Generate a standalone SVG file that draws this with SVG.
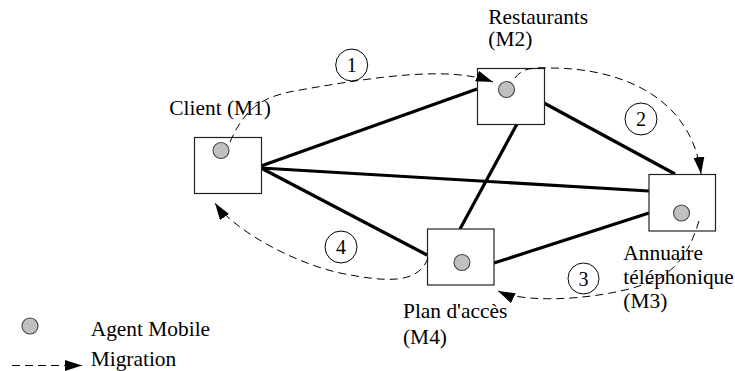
<svg xmlns="http://www.w3.org/2000/svg" width="735" height="371" viewBox="0 0 735 371">
<style>
text{font-family:"Liberation Serif","Times New Roman",serif;font-size:21.4px;fill:#000}
.box{fill:#fff;stroke:#222;stroke-width:1.2}
.agent{fill:#c0c0c0;stroke:#444;stroke-width:1.1}
.link{stroke:#000;stroke-width:3.2;fill:none}
.mig{stroke:#000;stroke-width:1;fill:none;stroke-dasharray:8,5;marker-end:url(#arr)}
.num{fill:none;stroke:#000;stroke-width:1}
.n{text-anchor:middle;font-size:20px}
</style>
<defs>
<marker id="arr" markerUnits="userSpaceOnUse" markerWidth="18" markerHeight="12" refX="17" refY="5.5" orient="auto">
<path d="M0,0 L17,5.5 L0,11 z" fill="#000"/>
</marker>
</defs>
<g id="links">
<line class="link" x1="261" y1="166" x2="477" y2="89"/>
<line class="link" x1="261" y1="168" x2="649" y2="191"/>
<line class="link" x1="261" y1="168" x2="427" y2="255"/>
<line class="link" x1="517" y1="124" x2="460" y2="229"/>
<line class="link" x1="544" y1="103" x2="675" y2="174"/>
<line class="link" x1="494" y1="263" x2="649" y2="213"/>
</g>
<g id="M1">
<rect class="box" x="194.5" y="137.5" width="67" height="56"/>
<circle class="agent" cx="221" cy="150.5" r="8"/>
<text x="169.3" y="114.5">Client (M1)</text>
</g>
<g id="M2">
<rect class="box" x="477.5" y="68.5" width="67" height="56"/>
<circle class="agent" cx="506.5" cy="89.5" r="8"/>
<text x="488.3" y="23.5">Restaurants</text>
<text x="488.3" y="46">(M2)</text>
</g>
<g id="M3">
<rect class="box" x="649" y="174.5" width="66.5" height="56.5"/>
<circle class="agent" cx="681.5" cy="213" r="8"/>
<text x="623.3" y="260">Annuaire</text>
<text x="623.3" y="283.5">téléphonique</text>
<text x="623.3" y="308">(M3)</text>
</g>
<g id="M4">
<rect class="box" x="427.5" y="229" width="66.5" height="56"/>
<circle class="agent" cx="462" cy="262.5" r="8"/>
<text x="403" y="318.3">Plan d'accès</text>
<text x="403" y="343.5">(M4)</text>
</g>
<g id="migrations">
<path class="mig" d="M230,142 C245,108 262,96 300,90 C380,76 450,66 493,82"/>
<path class="mig" d="M515,78 C522,68 535,67 550,68 C625,68 692,100 701,174"/>
<path class="mig" d="M699,221 C693,240 685,262 660,278 C620,298 530,306 498,291"/>
<path class="mig" d="M428,258 C418,285 385,282 340,273 C290,262 232,228 215,203"/>
</g>
<g id="step1"><circle class="num" cx="351.7" cy="65" r="16"/><text class="n" x="351.7" y="72">1</text></g>
<g id="step2"><circle class="num" cx="641" cy="119" r="16"/><text class="n" x="641" y="126">2</text></g>
<g id="step3"><circle class="num" cx="583.5" cy="278.5" r="15.5"/><text class="n" x="583.5" y="285.5">3</text></g>
<g id="step4"><circle class="num" cx="341" cy="247" r="16"/><text class="n" x="341" y="254">4</text></g>
<g id="legend">
<circle class="agent" cx="30" cy="326" r="8"/>
<text x="90.7" y="336">Agent Mobile</text>
<path class="mig" d="M12,365.5 H82"/>
<text x="90.7" y="366">Migration</text>
</g>
</svg>
